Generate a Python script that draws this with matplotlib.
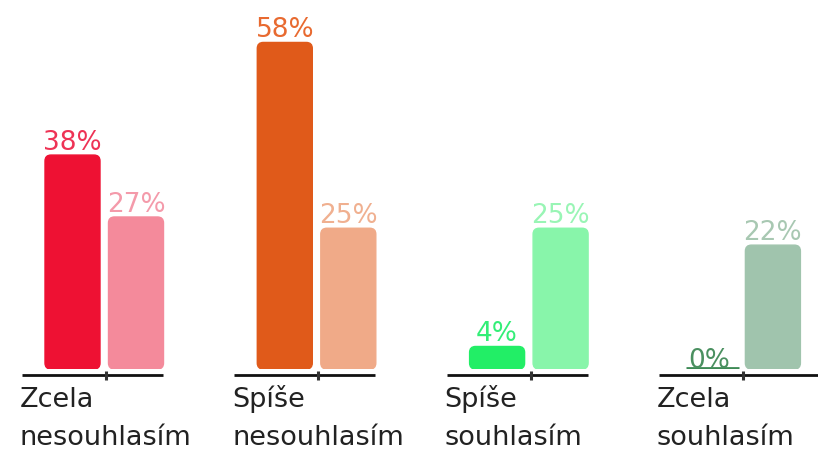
import matplotlib
matplotlib.use("Agg")
import matplotlib.pyplot as plt
from matplotlib.patches import FancyBboxPatch

categories = ["Zcela\nnesouhlasím", "Spíše\nnesouhlasím", "Spíše\nsouhlasím", "Zcela\nsouhlasím"]
series_a = [38, 58, 4, 0]
series_b = [27, 25, 25, 22]
labels_a = ["38%", "58%", "4%", "0%"]
labels_b = ["27%", "25%", "25%", "22%"]
colors_a = ["#ee1133", "#e05a1a", "#22ee66", "#3d8a55"]
colors_b = ["#f48a9b", "#f0aa88", "#88f5aa", "#a0c4ad"]
text_a = ["#ee3355", "#e86a30", "#33ee77", "#4a9060"]
text_b = ["#f49aaa", "#f0b090", "#99f5b5", "#a8c8b2"]

W, H = 818, 453
DPI = 100
fig = plt.figure(figsize=(W / DPI, H / DPI), dpi=DPI)
base_px = 369          # baseline from top
px_per_pct = 5.63
spacing = 212.3
first_tick = 106

ax = fig.add_axes([0, (H - base_px) / H, 1, base_px / H])
ax.set_ylim(0, base_px / px_per_pct)
ax.set_xlim(-first_tick / spacing, (W - first_tick) / spacing)
ax.axis("off")

def px_x(p):
    return p / spacing

def px_y(p):
    return p / px_per_pct

bw = px_x(55)
off_a = px_x(-33.5)
off_b = px_x(30)
x = list(range(len(categories)))

bars_a = ax.bar([i + off_a for i in x], series_a, width=bw, color=colors_a)
bars_b = ax.bar([i + off_b for i in x], series_b, width=bw, color=colors_b)

r_px = 6
aspect = (1 / px_per_pct) / (1 / spacing)
for bars in (bars_a, bars_b):
    for rect in bars:
        rect.set_visible(False)
        h = rect.get_height()
        x0 = rect.get_x()
        w = rect.get_width()
        if h <= 0:
            ax.plot([x0 + px_x(4), x0 + w + px_x(2)], [0.15, 0.15], color=rect.get_facecolor(),
                    lw=2, solid_capstyle="butt")
            continue
        hh = max(h, px_y(16))
        rs = min(px_x(r_px), hh * 0.5 / aspect)
        p = FancyBboxPatch((x0, 0), w, hh,
                           boxstyle=f"round,pad=0,rounding_size={rs}",
                           mutation_aspect=aspect,
                           facecolor=rect.get_facecolor(), edgecolor=rect.get_facecolor(),
                           lw=1.0, alpha=1)
        ax.add_patch(p)

FS = 19
for i in x:
    ha = max(series_a[i], px_y(16)) if series_a[i] > 0 else px_y(-4)
    ax.text(i + off_a, ha + px_y(5), labels_a[i], ha="center", va="baseline",
            color=text_a[i], fontsize=FS, clip_on=False)
    ax.text(i + off_b, series_b[i] + px_y(5), labels_b[i], ha="center", va="baseline",
            color=text_b[i], fontsize=FS, clip_on=False)

line_y = -px_y(5.5)
for i in x:
    left = i + px_x(-84)
    right = i + px_x(57) if i < len(x) - 1 else i + px_x(90)
    ax.plot([left, right], [line_y, line_y], color="#111111", lw=2, clip_on=False,
            solid_capstyle="butt")
    ax.plot([i, i], [line_y + px_y(4), line_y - px_y(5)], color="#333333", lw=2.2,
            clip_on=False, solid_capstyle="butt")
    ax.text(i + px_x(-86), -px_y(445 - base_px), categories[i], ha="left", va="baseline",
            fontsize=19.5, color="#222222", linespacing=1.6, clip_on=False)

fig.savefig("out.png", dpi=DPI)
